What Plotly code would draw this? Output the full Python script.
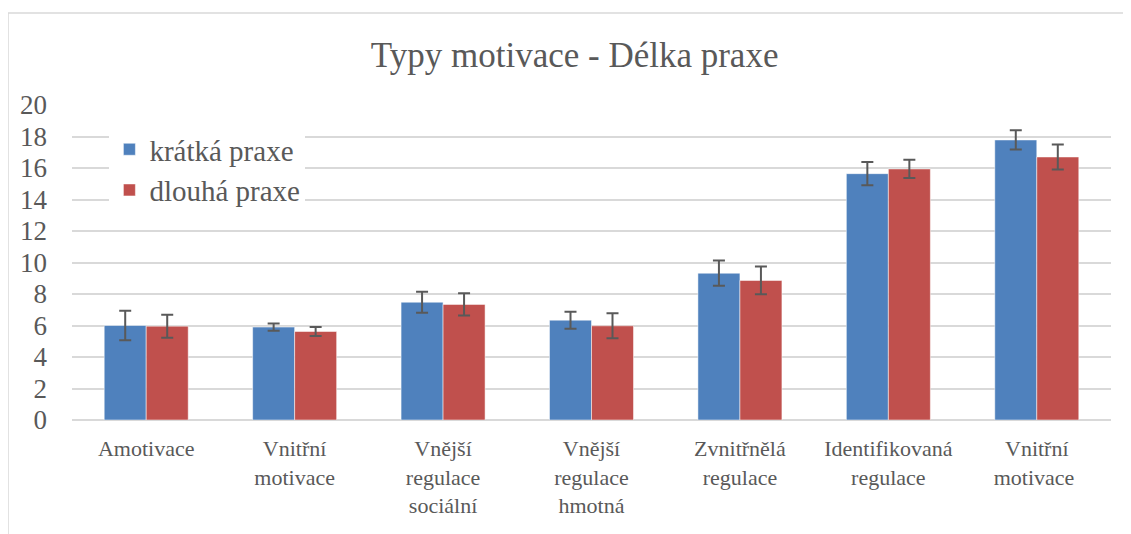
import plotly.graph_objects as go

categories = ["Amotivace", "Vnitřní<br>motivace", "Vnější<br>regulace<br>sociální",
              "Vnější<br>regulace<br>hmotná", "Zvnitřnělá<br>regulace",
              "Identifikovaná<br>regulace", "Vnitřní<br>motivace "]
kratka = [6.0, 5.9, 7.48, 6.34, 9.32, 15.64, 17.78]
kratka_err = [0.94, 0.23, 0.67, 0.54, 0.8, 0.74, 0.61]
dlouha = [5.96, 5.62, 7.34, 5.98, 8.86, 15.94, 16.7]
dlouha_err = [0.73, 0.29, 0.7, 0.79, 0.88, 0.58, 0.8]
y_ticks = list(range(0, 21, 2))

FONT = "Liberation Serif"
TXT = "#595959"

fig = go.Figure()

fig.add_trace(go.Bar(
    x=categories, y=kratka, name="krátká praxe",
    marker=dict(color="#4F81BD", line=dict(color="rgba(255,255,255,0.5)", width=1)),
    error_y=dict(type="data", array=kratka_err, color="#595959", thickness=2, width=6),
))
fig.add_trace(go.Bar(
    x=categories, y=dlouha, name="dlouhá praxe",
    marker=dict(color="#C0504D", line=dict(color="rgba(255,255,255,0.5)", width=1)),
    error_y=dict(type="data", array=dlouha_err, color="#595959", thickness=2, width=6),
))

# light chart frame (top and left edges only visible)
fig.add_shape(type="line", xref="paper", yref="paper", x0=-0.0616, x1=1.05, y0=1.292, y1=1.292,
              line=dict(color="#D9D9D9", width=1.5), layer="below")
fig.add_shape(type="line", xref="paper", yref="paper", x0=-0.0616, x1=-0.0616, y0=-0.5, y1=1.292,
              line=dict(color="#D9D9D9", width=1.5), layer="below")

fig.update_layout(
    width=1131, height=534,
    margin=dict(l=64, r=28, t=97, b=122),
    paper_bgcolor="white", plot_bgcolor="white",
    font=dict(family=FONT, color=TXT),
    title=dict(text="Typy motivace - Délka praxe", x=0.501, xref="container", xanchor="center",
               y=0.912, yref="container", yanchor="middle",
               font=dict(size=35, color=TXT, family=FONT)),
    barmode="group", bargap=0.434, bargroupgap=0,
    showlegend=True,
    legend=dict(x=0.036, y=0.94, xanchor="left", yanchor="top", bgcolor="white",
                font=dict(size=29, color=TXT, family=FONT), tracegroupgap=0,
                itemwidth=30),
    xaxis=dict(showgrid=False, showline=False, tickfont=dict(size=22, color=TXT, family=FONT),
               ticklabelstandoff=13),
    yaxis=dict(range=[0, 20], tickvals=y_ticks, showgrid=True, gridcolor="#D9D9D9", gridwidth=1.5,
               zeroline=True, zerolinecolor="#D9D9D9", zerolinewidth=1.5,
               showline=False, tickfont=dict(size=27, color=TXT, family=FONT), ticklabelstandoff=24),
)

fig.write_html("out.html")
